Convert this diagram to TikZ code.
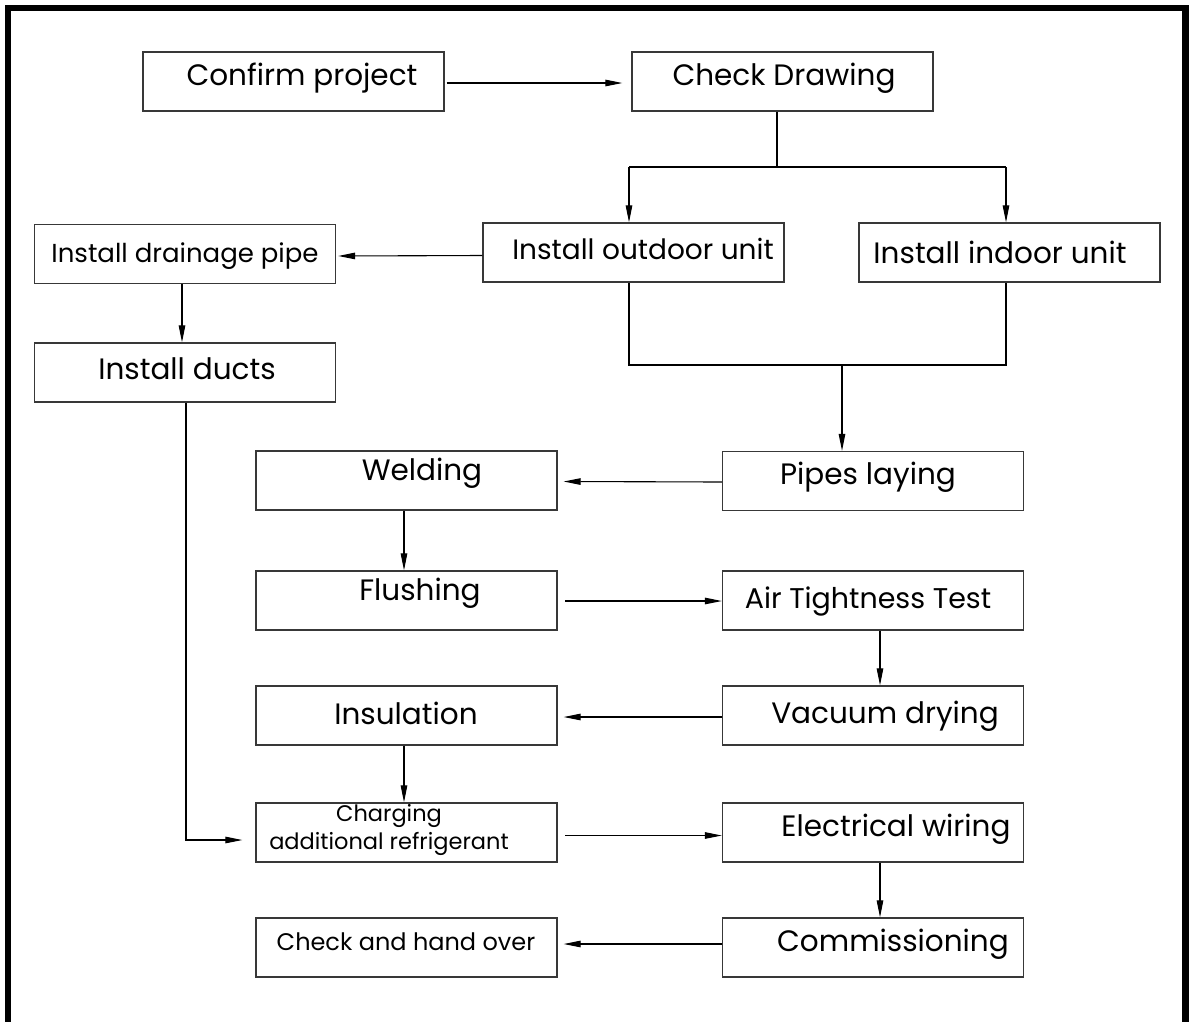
\documentclass[tikz,border=0pt]{standalone}
\usepackage{fontspec}
\setmainfont{Poppins}
\usetikzlibrary{arrows.meta,calc}
\tikzset{
  box/.style={draw=black!78, line width=1.3pt, minimum width=301pt, minimum height=59pt, inner sep=0pt},
  big/.style={font=\fontsize{29.5}{32}\selectfont, inner sep=0pt},
  small/.style={font=\fontsize{26}{28}\selectfont, inner sep=0pt, align=center},
  conn/.style={line width=1.1pt, draw=black},
  arr/.style={conn, -{Triangle[length=17pt,width=6.5pt]}}
}
\begin{document}
\begin{tikzpicture}[x=1pt,y=-1pt]
\useasboundingbox (0,0) rectangle (1189,1021);
% frame
\draw[line width=6.5pt] (8,1030) -- (8,8) -- (1185.5,8) -- (1185.5,1030);
% boxes
\node[box] (conf)  at (293.5,81.5) {};
\node[box] (check) at (782.5,81.5) {};
\node[box] (outd)  at (633.5,252.5) {};
\node[box] (ind)   at (1009.5,252.5) {};
\node[box] (drain) at (185,254) {};
\node[box] (ducts) at (185,372.5) {};
\node[box] (weld)  at (406.5,480.5) {};
\node[box] (pipes) at (873,481) {};
\node[box] (flush) at (406.5,600.5) {};
\node[box] (air)   at (873,600.5) {};
\node[box] (insul) at (406.5,715.5) {};
\node[box] (vac)   at (873,715.5) {};
\node[box] (charg) at (406.5,832.5) {};
\node[box] (elec)  at (873,832.5) {};
\node[box] (hand)  at (406.5,947.5) {};
\node[box] (comm)  at (873,947.5) {};
% texts
\node[big] (tconf)  at (302,78) {Confirm project};
\node[big] (tcheck) at (784,78) {Check Drawing};
\node[big, font=\fontsize{28}{32}\selectfont] (toutd)  at (643,249) {Install outdoor unit};
\node[big] (tind)   at (1000,252) {Install indoor unit};
\node[small] (tdrain) at (185,256) {Install drainage pipe};
\node[big] (tducts) at (187,369) {Install ducts};
\node[big] (tweld)  at (422,473) {Welding};
\node[big] (tpipes) at (868,477) {Pipes laying};
\node[big] (tflush) at (420,593) {Flushing};
\node[big, font=\fontsize{28.5}{32}\selectfont] (tair) at (868,601) {Air Tightness Test};
\node[big] (tinsul) at (406,713) {Insulation};
\node[big] (tvac)   at (885,716) {Vacuum drying};
\node[small, font=\fontsize{22.5}{27.5}\selectfont] (tcharg) at (389,830) {Charging\\additional refrigerant};
\node[small, font=\fontsize{24}{27}\selectfont] (thand) at (406,942) {Check and hand over};
\node[big] (telec)  at (896,829) {Electrical wiring};
\node[big] (tcomm)  at (893,944) {Commissioning};
% connectors
\draw[arr] ($(conf.east)+(2,1.5)$) -- ($(check.west)+(-9,1.5)$);
\coordinate (s1) at (777,167);
\coordinate (sL) at (629,167);
\coordinate (sR) at (1006,167);
\draw[conn] (check.south -| s1) -- (s1);
\draw[conn] (sL) -- (sR);
\draw[arr] (sL) -- (sL |- outd.north);
\draw[arr] (sR) -- (sR |- ind.north);
\draw[arr] ($(outd.west)+(0,3)$) -- ($(drain.east)+(2,2)$);
\draw[arr] ($(drain.south)+(-3,0)$) -- ($(ducts.north)+(-3,0)$);
\coordinate (mL) at (629,365);
\coordinate (mR) at (1006,365);
\coordinate (mM) at (842,365);
\draw[conn] (outd.south -| mL) -- (mL) -- (mR) -- (ind.south -| mR);
\draw[arr] (mM) -- (mM |- pipes.north);
\draw[arr] ($(pipes.west)+(0,1)$) -- ($(weld.east)+(6,1)$);
\draw[arr] ($(weld.south)+(-2.5,0)$) -- ($(flush.north)+(-2.5,0)$);
\draw[arr] ($(flush.east)+(7.5,0.5)$) -- ($(air.west)+(0,0.5)$);
\draw[arr] ($(air.south)+(7,0)$) -- ($(vac.north)+(7,0)$);
\draw[arr] ($(vac.west)+(0,1.5)$) -- ($(insul.east)+(6,1.5)$);
\draw[arr] ($(insul.south)+(-2.5,0)$) -- ($(charg.north)+(-2.5,0)$);
\draw[arr] ($(ducts.south)+(1,0)$) |- ($(charg.west)+(-13,7.5)$);
\draw[arr] ($(charg.east)+(7.5,3)$) -- ($(elec.west)+(0,3)$);
\draw[arr] ($(elec.south)+(7,0)$) -- ($(comm.north)+(7,0)$);
\draw[arr] ($(comm.west)+(0,-3.5)$) -- ($(hand.east)+(6,-3.5)$);
\end{tikzpicture}
\end{document}
